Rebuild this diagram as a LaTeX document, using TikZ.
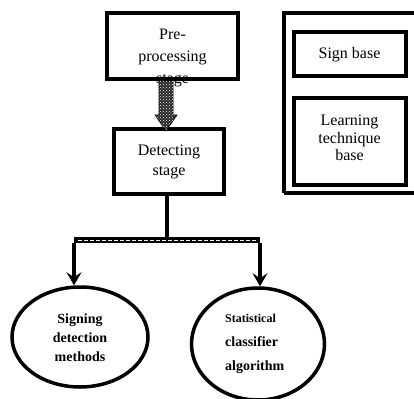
\documentclass[tikz,border=0pt]{standalone}
\usepackage{fontspec}
\setmainfont{Liberation Serif}
\usetikzlibrary{arrows.meta,patterns,shapes.geometric}
\tikzset{
  boxed/.style={draw=black, line width=4pt, rectangle, inner sep=0pt},
  txt/.style={font=\fontsize{16}{21}\selectfont, align=center, inner sep=0pt},
  btxt/.style={font=\fontsize{14}{19}\selectfont\bfseries, align=center, inner sep=0pt},
  oval/.style={draw=black, line width=3.5pt, ellipse, inner sep=0pt},
  conn/.style={draw=black, line width=4pt},
  tip/.style={-{Stealth[length=13pt,width=15pt,inset=5pt]}}
}
\begin{document}
\begin{tikzpicture}[x=1pt,y=-1pt]
\useasboundingbox (0,0) rectangle (414,398);
% right knowledge frame (open on the right)
\coordinate (ftl) at (284,13);
\coordinate (fbl) at (284,193);
\coordinate (ftr) at (414,13);
\coordinate (fbr) at (414,193);
\draw[line width=3.5pt] (fbl) -- (ftl) -- (ftr);
\draw[line width=3.5pt] (fbl) -- (fbr);
\node[boxed, minimum width=112pt, minimum height=44pt] (sign) at (349.5,54.5) {};
\node[txt] (signt) at (349.5,54.5) {Sign base};
\node[boxed, minimum width=112pt, minimum height=86pt] (learn) at (349.5,141.5) {};
\node[txt, font=\fontsize{16}{17.5}\selectfont] (learnt) at (349.5,138) {Learning\\technique\\base};
% pre-processing
\node[boxed, minimum width=131pt, minimum height=66pt] (pre) at (172.5,46) {};
\node[txt, font=\fontsize{16}{22}\selectfont] (pret) at (172.5,58) {Pre-\\processing\\stage};
% detecting
\node[boxed, minimum width=110pt, minimum height=65pt] (det) at (169,161.5) {};
\node[txt, font=\fontsize{16}{20}\selectfont] (dett) at (169,162) {Detecting\\stage};
% hatched arrow
\filldraw[fill=black!85, draw=black, line width=0.6pt] (159,81) -- (173,81) -- (173,115) -- (177,115) -- (166,131) -- (155,115) -- (159,115) -- cycle;
\fill[pattern=crosshatch dots, pattern color=white] (159,81) -- (173,81) -- (173,115) -- (177,115) -- (166,131) -- (155,115) -- (159,115) -- cycle;
% ellipses
\node[oval, minimum width=136pt, minimum height=100pt] (sdm) at (80,337) {};
\node[btxt] (sdmt) at (80,338) {Signing\\detection\\methods};
\node[oval, minimum width=133pt, minimum height=112pt] (sca) at (258,344) {};
\node[btxt, align=left, anchor=north west, font=\fontsize{14}{24}\selectfont\bfseries] (scat) at (225,314) {{\fontsize{12}{24}\selectfont Statistical}\\classifier\\algorithm};
% connectors
\coordinate (j) at (167,240);
\coordinate (jl) at (74,240);
\coordinate (jr) at (260,240);
\draw[conn] (det.south -| j) -- (j);
\draw[line width=6pt, line join=round] (jl) -- (jr);
\draw[white, line width=1pt, dash pattern=on 4pt off 2pt] ([xshift=4pt]jl) -- ([xshift=-4pt]jr);
\draw[conn, tip, line join=round] ([yshift=-3pt]jl) -- (jl |- sdm.north);
\draw[conn, tip, line join=round] ([yshift=-3pt]jr) -- (jr |- sca.north);
\end{tikzpicture}
\end{document}
